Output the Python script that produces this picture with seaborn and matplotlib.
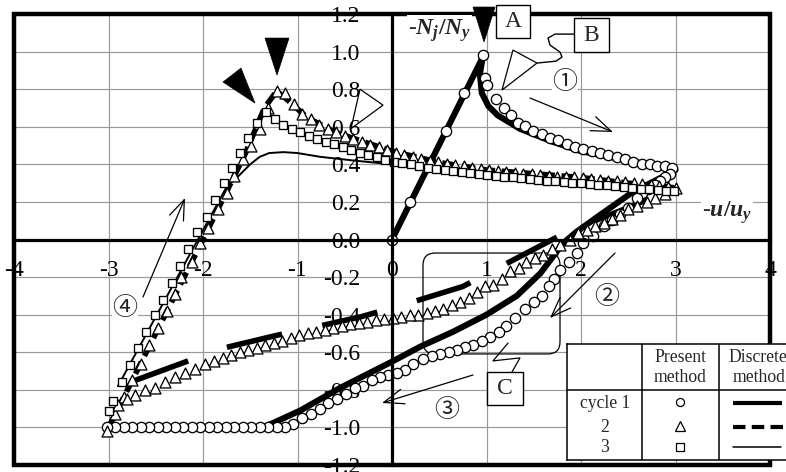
import matplotlib
matplotlib.use("Agg")
import matplotlib.pyplot as plt
import seaborn as sns
from matplotlib.patches import Rectangle, FancyBboxPatch, Polygon

# ---------------- data: normalised axial force vs. displacement ----------------
# cycle 1, present method (circles)
c1_x = [0.00, 0.19, 0.57, 0.76, 0.96,
        0.98, 1.01, 1.10, 1.18, 1.26, 1.33, 1.41, 1.49, 1.59, 1.67, 1.76, 1.85, 1.94,
        2.02, 2.12, 2.20, 2.29, 2.38, 2.47, 2.55, 2.65, 2.73, 2.80, 2.89, 2.96,
        2.94, 2.89, 2.84, 2.78, 2.71, 2.65, 2.59, 2.50, 2.41, 2.33, 2.24, 2.13, 2.02,
        1.96, 1.87, 1.78, 1.71, 1.66, 1.59, 1.50, 1.41, 1.30, 1.21, 1.13, 1.04, 0.95,
        0.86, 0.77, 0.69, 0.60, 0.51, 0.42, 0.33, 0.22, 0.14, 0.05, -0.04, -0.13, -0.21,
        -0.31, -0.39, -0.49, -0.58, -0.68, -0.76, -0.86, -0.95, -1.05, -1.13,
        -1.22, -1.31, -1.40, -1.49, -1.58, -1.67, -1.76, -1.85, -1.94, -2.03, -2.12,
        -2.21, -2.30, -2.39, -2.48, -2.57, -2.66, -2.75, -2.84, -2.93, -3.02]
c1_y = [0.00, 0.20, 0.58, 0.78, 0.98,
        0.86, 0.82, 0.75, 0.70, 0.66, 0.62, 0.605, 0.58, 0.56, 0.54, 0.53, 0.51, 0.49,
        0.48, 0.47, 0.46, 0.45, 0.44, 0.43, 0.41, 0.40, 0.40, 0.39, 0.39, 0.38,
        0.35, 0.33, 0.31, 0.29, 0.27, 0.245, 0.22, 0.17, 0.135, 0.105, 0.07, 0.02, -0.02,
        -0.07, -0.12, -0.16, -0.21, -0.25, -0.30, -0.33, -0.37, -0.42, -0.46, -0.49, -0.52, -0.54,
        -0.56, -0.57, -0.59, -0.60, -0.61, -0.62, -0.635, -0.665, -0.695, -0.71, -0.72, -0.73, -0.75,
        -0.78, -0.79, -0.82, -0.85, -0.87, -0.90, -0.93, -0.95, -0.98, -1.00,
        -1.00, -1.00, -1.00, -1.00, -1.00, -1.00, -1.00, -1.00, -1.00, -1.00, -1.00,
        -1.00, -1.00, -1.00, -1.00, -1.00, -1.00, -1.00, -1.00, -1.00, -1.00]

# cycle 2, present method (triangles)
c2_x = [-3.02, -2.93, -2.84, -2.75, -2.66, -2.57, -2.48, -2.38, -2.30, -2.23, -2.12, -2.03,
        -1.95, -1.84, -1.75, -1.67, -1.58, -1.49, -1.40, -1.31, -1.22,
        -1.13, -1.04, -0.95, -0.86, -0.77, -0.68, -0.59, -0.50, -0.41, -0.32, -0.23, -0.14,
        -0.05, 0.04, 0.13, 0.22, 0.31, 0.40, 0.49, 0.58, 0.67, 0.76, 0.85, 0.94, 1.03,
        1.12, 1.21, 1.30, 1.39, 1.48, 1.57, 1.66, 1.75, 1.84, 1.93, 2.02, 2.11, 2.20,
        2.29, 2.38, 2.47, 2.56, 2.65, 2.74, 2.83, 2.92, 3.00,
        2.89, 2.78, 2.70, 2.59, 2.50, 2.41, 2.33, 2.24, 2.15, 2.06, 1.97, 1.88, 1.78,
        1.69, 1.60, 1.51, 1.42, 1.34, 1.25, 1.16, 1.07, 0.98, 0.90, 0.81, 0.72, 0.63,
        0.54, 0.45, 0.37, 0.28, 0.19, 0.10, 0.01, -0.08, -0.17, -0.26, -0.35, -0.44,
        -0.53, -0.62, -0.71, -0.80, -0.89, -0.98, -1.07, -1.16, -1.25, -1.34, -1.43,
        -1.52, -1.61, -1.70, -1.79, -1.88, -1.98, -2.08, -2.19, -2.30, -2.40, -2.51,
        -2.61, -2.72, -2.80, -2.90]
c2_y = [-1.02, -0.93, -0.84, -0.75, -0.66, -0.56, -0.47, -0.38, -0.29, -0.20, -0.12, -0.02,
        0.06, 0.16, 0.25, 0.34, 0.43, 0.50, 0.59, 0.70, 0.79,
        0.78, 0.72, 0.67, 0.64, 0.61, 0.59, 0.57, 0.55, 0.535, 0.52, 0.505, 0.49,
        0.475, 0.46, 0.45, 0.44, 0.43, 0.42, 0.41, 0.40, 0.395, 0.39, 0.38, 0.375, 0.37,
        0.365, 0.36, 0.355, 0.35, 0.35, 0.345, 0.34, 0.335, 0.335, 0.33, 0.325, 0.32, 0.315,
        0.31, 0.31, 0.305, 0.30, 0.295, 0.29, 0.285, 0.28, 0.275,
        0.24, 0.22, 0.20, 0.18, 0.16, 0.13, 0.11, 0.09, 0.07, 0.05, 0.035, 0.00, -0.03,
        -0.05, -0.08, -0.10, -0.12, -0.15, -0.17, -0.21, -0.24, -0.25, -0.28, -0.31, -0.33, -0.35,
        -0.37, -0.38, -0.39, -0.40, -0.40, -0.41, -0.42, -0.425, -0.43, -0.44, -0.445, -0.45,
        -0.46, -0.47, -0.48, -0.49, -0.50, -0.51, -0.525, -0.54, -0.55, -0.56, -0.575,
        -0.59, -0.60, -0.615, -0.63, -0.645, -0.66, -0.69, -0.71, -0.73, -0.76, -0.79,
        -0.80, -0.83, -0.85, -0.88]

# cycle 3, present method (squares)
c3_x = [-3.00, -2.95, -2.86, -2.77, -2.69, -2.60, -2.51, -2.42, -2.33, -2.24, -2.16, -2.06,
        -1.96, -1.87, -1.78, -1.69, -1.61, -1.52, -1.43, -1.33,
        -1.24, -1.15, -1.06, -0.97, -0.88, -0.79, -0.70, -0.61, -0.52, -0.43, -0.34, -0.25,
        -0.16, -0.07, 0.02, 0.11, 0.20, 0.29, 0.38, 0.47, 0.56, 0.65, 0.74, 0.83, 0.92,
        1.01, 1.10, 1.19, 1.28, 1.37, 1.46, 1.55, 1.64, 1.73, 1.82, 1.91, 2.00, 2.09,
        2.18, 2.27, 2.36, 2.45, 2.54, 2.63, 2.72, 2.81, 2.90, 2.98]
c3_y = [-0.91, -0.86, -0.76, -0.67, -0.58, -0.49, -0.40, -0.32, -0.23, -0.14, -0.05, 0.04,
        0.12, 0.21, 0.30, 0.38, 0.46, 0.54, 0.62, 0.68,
        0.64, 0.61, 0.59, 0.57, 0.55, 0.535, 0.52, 0.51, 0.49, 0.475, 0.46, 0.45,
        0.44, 0.425, 0.415, 0.405, 0.40, 0.39, 0.38, 0.375, 0.37, 0.365, 0.36, 0.355, 0.35,
        0.345, 0.34, 0.335, 0.33, 0.325, 0.32, 0.315, 0.31, 0.31, 0.305, 0.30, 0.30, 0.295,
        0.29, 0.29, 0.285, 0.28, 0.275, 0.27, 0.27, 0.265, 0.26, 0.26]

# discrete method, cycle 1 (thick solid)
d1_x = [0.00, 0.96, 0.93, 0.95, 1.02, 1.12, 1.22, 1.35, 1.50, 1.70, 2.00, 2.30, 2.60, 3.00,
        2.85, 2.54, 2.20, 1.95, 1.81, 1.57, 1.32, 1.00, 0.65, 0.30, 0.00, -0.55, -0.97,
        -1.36, -3.00]
d1_y = [0.00, 0.97, 0.88, 0.78, 0.71, 0.66, 0.63, 0.59, 0.56, 0.52, 0.47, 0.44, 0.41, 0.37,
        0.33, 0.25, 0.13, 0.04, -0.02, -0.18, -0.30, -0.40, -0.49, -0.57, -0.65, -0.79, -0.91,
        -1.00, -1.00]

# discrete method, cycle 2 (thick dashed): loading branch and return branch
d2_load_x = [-3.00, -2.00, -1.55, -1.35, -1.22, -1.10, -0.90, -0.60, -0.30, 0.00, 0.50,
             1.00, 1.50, 2.00, 2.50, 3.00]
d2_load_y = [-1.00, 0.00, 0.46, 0.70, 0.79, 0.74, 0.65, 0.57, 0.52, 0.47, 0.41,
             0.37, 0.35, 0.33, 0.30, 0.275]
d2_ret_x = [-2.72, -2.07, -1.80, -1.22, -0.85, -0.32, 0.17, 0.75, 1.28, 1.85, 2.00, 2.50, 3.00]
d2_ret_y = [-0.75, -0.63, -0.58, -0.51, -0.47, -0.41, -0.34, -0.25, -0.11, 0.04, 0.07, 0.17, 0.275]

# discrete method, cycle 3 (thin solid)
d3_x = [-2.90, -1.75, -1.64, -1.50, -1.40, -1.30, -1.15, -1.00, -0.76, -0.40, 0.00, 0.50,
        1.00, 1.50, 2.00, 2.50, 3.00]
d3_y = [-0.78, 0.28, 0.33, 0.40, 0.44, 0.46, 0.465, 0.46, 0.44, 0.42, 0.40, 0.375,
        0.35, 0.325, 0.30, 0.275, 0.25]

x_ticks = [-4, -3, -2, -1, 0, 1, 2, 3, 4]
x_tick_labels = ["-4", "-3", "-2", "-1", "0", "1", "2", "3", "4"]
y_ticks = [-1.2, -1.0, -0.8, -0.6, -0.4, -0.2, 0.0, 0.2, 0.4, 0.6, 0.8, 1.0, 1.2]
y_tick_labels = ["-1.2", "-1.0", "-0.8", "-0.6", "-0.4", "-0.2", "0.0",
                 "0.2", "0.4", "0.6", "0.8", "1.0", "1.2"]

# ---------------- style ----------------
sns.set_theme(style="white")
plt.rcParams["font.family"] = ["Liberation Serif", "DejaVu Serif"]
plt.rcParams["mathtext.fontset"] = "custom"
plt.rcParams["mathtext.rm"] = "Liberation Serif:bold"
plt.rcParams["mathtext.it"] = "Liberation Serif:italic:bold"
plt.rcParams["mathtext.bf"] = "Liberation Serif:bold"
CIRC = ["Noto Sans CJK JP", "DejaVu Sans"]

fig = plt.figure(figsize=(7.86, 4.72), dpi=100)
ax = fig.add_axes([14 / 786, 7 / 472, 756 / 786, 451 / 472])
ax.set_xlim(-4, 4)
ax.set_ylim(-1.2, 1.2)
ax.set_axisbelow(True)
ax.grid(True, color="#999999", lw=0.85)

# axes crossing at the origin
for side in ("top", "right"):
    ax.spines[side].set_visible(False)
for side in ("left", "bottom"):
    ax.spines[side].set_position(("data", 0))
    ax.spines[side].set_linewidth(2.3)
    ax.spines[side].set_color("black")
    ax.spines[side].set_zorder(8)
ax.set_xticks(x_ticks)
ax.set_xticklabels(x_tick_labels)
ax.set_yticks(y_ticks)
ax.set_yticklabels(y_tick_labels)
ax.tick_params(direction="in", length=4, width=2.3, colors="black", labelsize=17)
ax.tick_params(axis="y", pad=23)
ax.tick_params(axis="x", pad=15)
ax.set_xlabel("")
ax.set_ylabel("")

# outer frame
ax.add_patch(Rectangle((0, 0), 1, 1, transform=ax.transAxes, fill=False,
                       lw=3.2, ec="black", clip_on=False, zorder=9))

# ---------------- curves ----------------
sns.lineplot(x=d1_x, y=d1_y, sort=False, estimator=None, color="black", lw=4.4,
             ax=ax, zorder=3)
sns.lineplot(x=d2_load_x, y=d2_load_y, sort=False, estimator=None, color="black", lw=4.0,
             ls=(0, (2.4, 1.2)), ax=ax, zorder=3)
sns.lineplot(x=d2_ret_x, y=d2_ret_y, sort=False, estimator=None, color="black", lw=4.0,
             ls=(0, (10.2, 7.4)), ax=ax, zorder=3)
sns.lineplot(x=d3_x, y=d3_y, sort=False, estimator=None, color="black", lw=1.4,
             ax=ax, zorder=3)

sns.scatterplot(x=c1_x, y=c1_y, marker="o", s=55, color="white", edgecolor="black",
                linewidth=0.95, ax=ax, zorder=5)
sns.scatterplot(x=c2_x, y=c2_y, marker="^", s=62, color="white", edgecolor="black",
                linewidth=0.95, ax=ax, zorder=6)
sns.scatterplot(x=c3_x, y=c3_y, marker="s", s=36, color="white", edgecolor="black",
                linewidth=0.95, ax=ax, zorder=7)

# ---------------- axis titles ----------------
ax.text(0.503, 1.114, r"-$N_j/N_y$", fontsize=17, ha="center", va="center", zorder=11,
        bbox=dict(fc="white", ec="none", pad=1.0))
ax.text(3.545, 0.141, r"-$u/u_y$", fontsize=17, ha="center", va="center", zorder=11,
        bbox=dict(fc="white", ec="none", pad=1.0))

# ---------------- callouts ----------------
for (x0, y0, w, h, lab) in [(1.101, 1.072, 0.359, 0.176, "A"),
                            (1.926, 0.997, 0.370, 0.181, "B"),
                            (1.005, -0.880, 0.381, 0.175, "C")]:
    ax.add_patch(Rectangle((x0, y0), w, h, fc="white", ec="black", lw=1.0,
                           clip_on=False, zorder=12))
    ax.text(x0 + w / 2, y0 + h / 2, lab, fontsize=17, ha="center", va="center",
            zorder=13, clip_on=False)

# connector from B to its pointer
ax.plot([1.926, 1.725, 1.651, 1.672, 1.778, 1.799, 1.735, 1.534],
        [1.093, 1.093, 1.072, 1.035, 0.997, 0.971, 0.949, 0.939],
        color="black", lw=1.0, zorder=12)
ax.add_patch(Polygon([(1.280, 1.008), (1.534, 0.939), (1.164, 0.795)], closed=True,
                     fc="white", ec="black", lw=0.9, zorder=12))
ax.add_patch(Polygon([(-0.339, 0.800), (-0.095, 0.715), (-0.434, 0.590)], closed=True,
                     fill=False, ec="black", lw=0.9, zorder=12))

# region C
ax.add_patch(FancyBboxPatch((0.328, -0.609), 1.45, 0.537,
                            boxstyle="round,pad=0,rounding_size=0.13",
                            mutation_aspect=0.5, fill=False, ec="black", lw=0.9, zorder=4))
ax.plot([1.228, 1.069, 1.354, 1.270], [-0.551, -0.646, -0.630, -0.705],
        color="black", lw=0.9, zorder=12)

# peak markers
for tri in ([(0.857, 1.237), (1.090, 1.237), (0.974, 1.051)],
            [(-1.344, 1.072), (-1.090, 1.072), (-1.217, 0.875)],
            [(-1.788, 0.838), (-1.598, 0.912), (-1.450, 0.726)]):
    ax.add_patch(Polygon(tri, closed=True, fc="black", ec="black", lw=0.5,
                         clip_on=False, zorder=12))

# loading path arrows and step numbers
arrow_kw = dict(arrowstyle="->,head_length=1.2,head_width=0.45", lw=0.9, color="black",
                shrinkA=0, shrinkB=0)
for start, end in [((1.460, 0.753), (2.339, 0.572)),
                   ((2.360, -0.072), (1.672, -0.418)),
                   ((0.857, -0.721), (-0.106, -0.870)),
                   ((-2.635, -0.306), (-2.190, 0.221))]:
    ax.annotate("", xy=end, xytext=start, arrowprops=arrow_kw, zorder=12)

for (x, y, s) in [(1.831, 0.838, "①"), (2.275, -0.306, "②"),
                  (0.582, -0.907, "③"), (-2.825, -0.364, "④")]:
    ax.text(x, y, s, fontsize=18, family=CIRC, ha="center", va="center", zorder=11,
            color="#222222", bbox=dict(fc="white", ec="none", pad=0.5))

# ---------------- legend table ----------------
tab = fig.add_axes([567 / 786, 1 - 460 / 472, (800 - 567) / 786, (460 - 344) / 472])
tab.set_xlim(567, 800)
tab.set_ylim(460, 344)
tab.set_facecolor("white")
tab.set_xticks([])
tab.set_yticks([])
for sp in tab.spines.values():
    sp.set_linewidth(1.1)
    sp.set_color("black")
tab.axvline(642, color="black", lw=1.1)
tab.axvline(719, color="black", lw=1.1)
tab.axhline(390, color="black", lw=1.1)
tfs = 12.7
tab.text(680, 357, "Present", fontsize=tfs, ha="center", va="center")
tab.text(680, 378, "method", fontsize=tfs, ha="center", va="center")
tab.text(758, 357, "Discrete", fontsize=tfs, ha="center", va="center")
tab.text(759, 378, "method", fontsize=tfs, ha="center", va="center")
tab.text(605, 403, "cycle 1", fontsize=tfs, ha="center", va="center")
tab.text(605, 427, "2", fontsize=tfs, ha="center", va="center")
tab.text(605, 447, "3", fontsize=tfs, ha="center", va="center")
tab.plot([680], [402], "o", ms=5.8, mfc="white", mec="black", mew=0.9)
tab.plot([680], [426], "^", ms=6.6, mfc="white", mec="black", mew=0.9)
tab.plot([680], [447], "s", ms=5.2, mfc="white", mec="black", mew=0.9)
tab.plot([733, 782], [403, 403], color="black", lw=3.0, solid_capstyle="butt")
tab.plot([733, 784], [427, 427], color="black", lw=3.0, ls=(0, (3.0, 1.5)))
tab.plot([733, 781], [447, 447], color="black", lw=1.1)

fig.savefig("out.png", dpi=100)
